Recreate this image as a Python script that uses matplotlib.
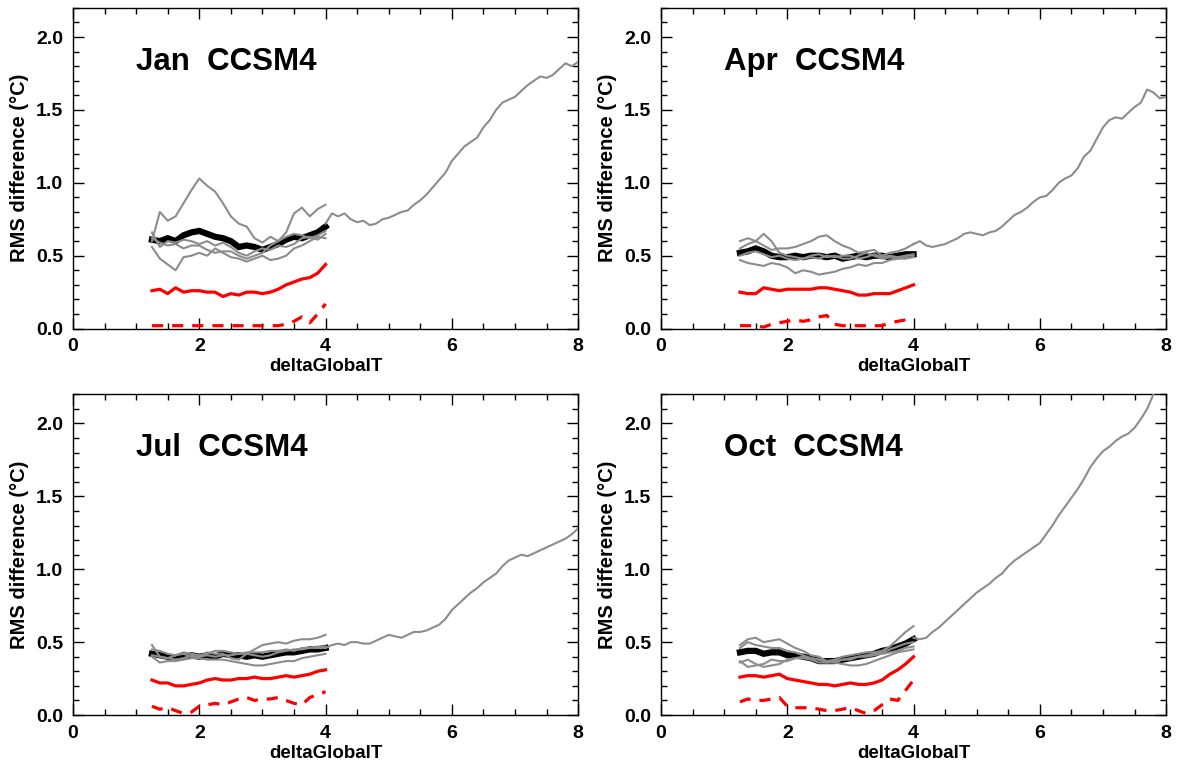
import numpy as np
import matplotlib.pyplot as plt
from matplotlib.ticker import MultipleLocator

plt.rcParams["font.family"] = ["Liberation Sans", "DejaVu Sans"]
plt.rcParams["font.weight"] = "bold"

GRAY = "#8c8c8c"
RED = "#ff0000"

# x sampling of the short (ensemble) curves and of the long single run
X_SHORT = np.arange(23) * 0.125 + 1.25
X_LONG = np.arange(41) * 0.1 + 4.0

MONTHS = ["Jan", "Apr", "Jul", "Oct"]

# --- Jan ---
jan_black = [0.61, 0.60, 0.62, 0.60, 0.64, 0.66, 0.67, 0.65, 0.63, 0.62, 0.60, 0.56,
             0.57, 0.56, 0.54, 0.56, 0.58, 0.61, 0.63, 0.62, 0.64, 0.66, 0.70]
jan_gray = [
    [0.60, 0.80, 0.74, 0.77, 0.86, 0.95, 1.03, 0.98, 0.94, 0.86, 0.77, 0.72,
     0.70, 0.62, 0.59, 0.63, 0.60, 0.66, 0.79, 0.83, 0.77, 0.82, 0.85],
    [0.66, 0.56, 0.60, 0.59, 0.61, 0.60, 0.58, 0.60, 0.57, 0.59, 0.56, 0.52,
     0.50, 0.53, 0.55, 0.54, 0.57, 0.56, 0.58, 0.62, 0.63, 0.61, 0.65],
    [0.56, 0.48, 0.44, 0.40, 0.49, 0.50, 0.52, 0.50, 0.55, 0.52, 0.49, 0.48,
     0.46, 0.48, 0.50, 0.47, 0.48, 0.50, 0.55, 0.57, 0.60, 0.63, 0.62],
    [0.62, 0.59, 0.57, 0.58, 0.55, 0.57, 0.57, 0.54, 0.52, 0.53, 0.53, 0.50,
     0.48, 0.50, 0.52, 0.57, 0.60, 0.63, 0.65, 0.64, 0.62, 0.64, 0.67],
]
jan_red = [0.26, 0.27, 0.24, 0.28, 0.25, 0.26, 0.26, 0.25, 0.25, 0.22, 0.24, 0.23,
           0.25, 0.25, 0.24, 0.25, 0.27, 0.30, 0.32, 0.34, 0.35, 0.38, 0.44]
jan_dash = [0.02, 0.02, 0.02, 0.02, 0.02, 0.02, 0.02, 0.02, 0.02, 0.02, 0.02, 0.02,
            0.02, 0.02, 0.02, 0.02, 0.02, 0.03, 0.05, 0.08, 0.04, 0.10, 0.17]
jan_long = [0.72, 0.79, 0.77, 0.79, 0.75, 0.73, 0.74, 0.71, 0.72, 0.75, 0.76, 0.78,
            0.80, 0.81, 0.85, 0.88, 0.92, 0.97, 1.02, 1.07, 1.15, 1.20, 1.25, 1.28,
            1.31, 1.38, 1.43, 1.50, 1.55, 1.57, 1.59, 1.63, 1.67, 1.70, 1.73, 1.72,
            1.74, 1.78, 1.82, 1.80, 1.83]

# --- Apr ---
apr_black = [0.52, 0.53, 0.55, 0.53, 0.50, 0.49, 0.49, 0.50, 0.49, 0.50, 0.50, 0.49,
             0.50, 0.48, 0.49, 0.50, 0.49, 0.50, 0.50, 0.49, 0.50, 0.51, 0.51]
apr_gray = [
    [0.60, 0.62, 0.60, 0.57, 0.54, 0.55, 0.55, 0.56, 0.58, 0.60, 0.63, 0.64,
     0.60, 0.57, 0.55, 0.52, 0.53, 0.54, 0.50, 0.52, 0.53, 0.55, 0.58],
    [0.47, 0.45, 0.44, 0.43, 0.45, 0.44, 0.42, 0.38, 0.40, 0.39, 0.37, 0.38,
     0.39, 0.41, 0.42, 0.44, 0.43, 0.45, 0.45, 0.47, 0.48, 0.48, 0.49],
    [0.55, 0.58, 0.60, 0.65, 0.60, 0.52, 0.50, 0.49, 0.48, 0.49, 0.48, 0.50,
     0.49, 0.50, 0.50, 0.48, 0.49, 0.51, 0.49, 0.50, 0.49, 0.50, 0.51],
    [0.50, 0.52, 0.53, 0.51, 0.49, 0.50, 0.48, 0.47, 0.48, 0.50, 0.51, 0.49,
     0.50, 0.48, 0.48, 0.50, 0.52, 0.50, 0.48, 0.49, 0.48, 0.50, 0.50],
]
apr_red = [0.25, 0.24, 0.24, 0.28, 0.27, 0.26, 0.27, 0.27, 0.27, 0.27, 0.28, 0.28,
           0.27, 0.26, 0.25, 0.23, 0.23, 0.24, 0.24, 0.24, 0.26, 0.28, 0.30]
apr_dash = [0.02, 0.02, 0.02, 0.01, 0.03, 0.04, 0.05, 0.06, 0.05, 0.06, 0.08, 0.09,
            0.03, 0.02, 0.02, 0.02, 0.02, 0.02, 0.02, 0.04, 0.05, 0.06, 0.08]
apr_long = [0.58, 0.60, 0.57, 0.56, 0.57, 0.58, 0.60, 0.62, 0.65, 0.66, 0.65, 0.64,
            0.66, 0.67, 0.70, 0.74, 0.78, 0.80, 0.83, 0.87, 0.90, 0.91, 0.95, 1.00,
            1.03, 1.05, 1.10, 1.18, 1.22, 1.30, 1.38, 1.43, 1.45, 1.44, 1.48, 1.52,
            1.55, 1.64, 1.62, 1.58, 1.59]

# --- Jul ---
jul_black = [0.42, 0.41, 0.40, 0.39, 0.40, 0.41, 0.40, 0.41, 0.40, 0.42, 0.41, 0.41,
             0.40, 0.41, 0.40, 0.41, 0.42, 0.43, 0.43, 0.44, 0.45, 0.45, 0.46]
jul_gray = [
    [0.48, 0.40, 0.39, 0.38, 0.39, 0.41, 0.40, 0.43, 0.42, 0.42, 0.39, 0.38,
     0.42, 0.45, 0.48, 0.49, 0.50, 0.49, 0.51, 0.52, 0.52, 0.53, 0.55],
    [0.40, 0.36, 0.37, 0.37, 0.38, 0.39, 0.39, 0.38, 0.38, 0.38, 0.37, 0.36,
     0.35, 0.34, 0.34, 0.35, 0.36, 0.37, 0.37, 0.39, 0.40, 0.41, 0.42],
    [0.45, 0.44, 0.42, 0.41, 0.43, 0.42, 0.41, 0.42, 0.44, 0.44, 0.43, 0.42,
     0.42, 0.41, 0.40, 0.41, 0.43, 0.44, 0.45, 0.45, 0.46, 0.47, 0.47],
    [0.41, 0.40, 0.39, 0.41, 0.42, 0.40, 0.40, 0.41, 0.40, 0.41, 0.41, 0.42,
     0.43, 0.43, 0.43, 0.44, 0.44, 0.45, 0.44, 0.46, 0.46, 0.46, 0.46],
]
jul_red = [0.24, 0.22, 0.22, 0.20, 0.20, 0.21, 0.22, 0.24, 0.25, 0.24, 0.24, 0.25,
           0.25, 0.26, 0.25, 0.25, 0.26, 0.27, 0.26, 0.27, 0.28, 0.30, 0.31]
jul_dash = [0.06, 0.04, 0.05, 0.03, 0.01, 0.02, 0.06, 0.07, 0.08, 0.07, 0.09, 0.11,
            0.12, 0.10, 0.11, 0.11, 0.12, 0.10, 0.08, 0.07, 0.12, 0.14, 0.16]
jul_long = [0.46, 0.48, 0.49, 0.48, 0.50, 0.50, 0.49, 0.49, 0.51, 0.53, 0.55, 0.54,
            0.53, 0.55, 0.57, 0.57, 0.58, 0.60, 0.62, 0.66, 0.72, 0.76, 0.80, 0.84,
            0.87, 0.91, 0.94, 0.97, 1.02, 1.06, 1.08, 1.10, 1.09, 1.11, 1.13, 1.15,
            1.17, 1.19, 1.21, 1.24, 1.28]

# --- Oct ---
oct_black = [0.43, 0.44, 0.44, 0.42, 0.43, 0.43, 0.41, 0.41, 0.40, 0.39, 0.37, 0.37,
             0.37, 0.38, 0.39, 0.40, 0.41, 0.42, 0.44, 0.45, 0.47, 0.49, 0.52]
oct_gray = [
    [0.48, 0.52, 0.53, 0.50, 0.51, 0.52, 0.49, 0.46, 0.44, 0.41, 0.40, 0.37,
     0.38, 0.40, 0.41, 0.42, 0.43, 0.43, 0.44, 0.47, 0.52, 0.57, 0.61],
    [0.46, 0.50, 0.48, 0.47, 0.46, 0.46, 0.44, 0.43, 0.41, 0.39, 0.38, 0.36,
     0.36, 0.38, 0.39, 0.40, 0.41, 0.42, 0.43, 0.45, 0.47, 0.49, 0.50],
    [0.37, 0.33, 0.34, 0.35, 0.38, 0.37, 0.37, 0.39, 0.40, 0.39, 0.38, 0.37,
     0.36, 0.35, 0.34, 0.34, 0.35, 0.37, 0.39, 0.41, 0.43, 0.44, 0.45],
    [0.36, 0.38, 0.35, 0.33, 0.34, 0.35, 0.38, 0.39, 0.39, 0.38, 0.36, 0.36,
     0.37, 0.38, 0.38, 0.40, 0.40, 0.41, 0.42, 0.43, 0.44, 0.46, 0.47],
]
oct_red = [0.26, 0.27, 0.27, 0.26, 0.27, 0.28, 0.25, 0.24, 0.23, 0.22, 0.21, 0.21,
           0.20, 0.21, 0.22, 0.21, 0.21, 0.22, 0.24, 0.28, 0.31, 0.35, 0.40]
oct_dash = [0.09, 0.11, 0.10, 0.10, 0.11, 0.12, 0.06, 0.05, 0.05, 0.05, 0.04, 0.03,
            0.03, 0.04, 0.05, 0.03, 0.01, 0.03, 0.07, 0.11, 0.10, 0.17, 0.24]
oct_long = [0.53, 0.52, 0.53, 0.57, 0.60, 0.64, 0.68, 0.72, 0.76, 0.80, 0.84, 0.87,
            0.90, 0.94, 0.97, 1.02, 1.06, 1.09, 1.12, 1.15, 1.18, 1.24, 1.30, 1.37,
            1.43, 1.49, 1.55, 1.62, 1.70, 1.76, 1.81, 1.84, 1.88, 1.91, 1.93, 1.97,
            2.03, 2.10, 2.20, 2.28, 2.35]

PANELS = [
    (jan_black, jan_gray, jan_red, jan_dash, jan_long),
    (apr_black, apr_gray, apr_red, apr_dash, apr_long),
    (jul_black, jul_gray, jul_red, jul_dash, jul_long),
    (oct_black, oct_gray, oct_red, oct_dash, oct_long),
]

# axes boxes in figure fractions (left, bottom, width, height)
BOXES = [
    (0.0619, 0.5727, 0.428, 0.417),
    (0.5602, 0.5727, 0.428, 0.417),
    (0.0619, 0.0702, 0.428, 0.417),
    (0.5602, 0.0702, 0.428, 0.417),
]


def style_axis(ax):
    ax.set_xlim(0, 8)
    ax.set_ylim(0, 2.2)
    ax.xaxis.set_major_locator(MultipleLocator(2))
    ax.xaxis.set_minor_locator(MultipleLocator(0.5))
    ax.yaxis.set_major_locator(MultipleLocator(0.5))
    ax.yaxis.set_minor_locator(MultipleLocator(0.1))
    ax.yaxis.set_major_formatter(lambda v, p: f"{v:.1f}")
    ax.tick_params(which="both", direction="in", top=True, right=True,
                   width=1.0, colors="black")
    ax.tick_params(which="major", length=8, labelsize=14, pad=7)
    ax.tick_params(which="minor", length=4)
    for lab in ax.get_xticklabels() + ax.get_yticklabels():
        lab.set_fontweight("bold")
    for sp in ax.spines.values():
        sp.set_linewidth(1.0)
    ax.set_xlabel("deltaGlobalT", fontsize=13.5, fontweight="bold", labelpad=2)
    ax.set_ylabel("RMS difference (°C)", fontsize=14.5, fontweight="bold", labelpad=5)


fig = plt.figure(figsize=(11.8, 7.69), dpi=100)

for month, box, (black, grays, red, dash, long_run) in zip(MONTHS, BOXES, PANELS):
    ax = fig.add_axes(box)
    ax.plot(X_SHORT, black, color="black", lw=4.5, zorder=2, solid_joinstyle="miter")
    for g in grays:
        ax.plot(X_SHORT, g, color=GRAY, lw=1.5, zorder=3)
    ax.plot(X_LONG, long_run, color=GRAY, lw=1.5, zorder=3)
    ax.plot(X_SHORT, red, color=RED, lw=2.3, zorder=4)
    ax.plot(X_SHORT, dash, color=RED, lw=2.3, ls=(0, (3.5, 2.8)), zorder=4)
    ax.text(1.0, 1.83, f"{month}  CCSM4", fontsize=22.5, fontweight="bold",
            ha="left", va="center")
    style_axis(ax)

fig.savefig("out.png", dpi=100)
